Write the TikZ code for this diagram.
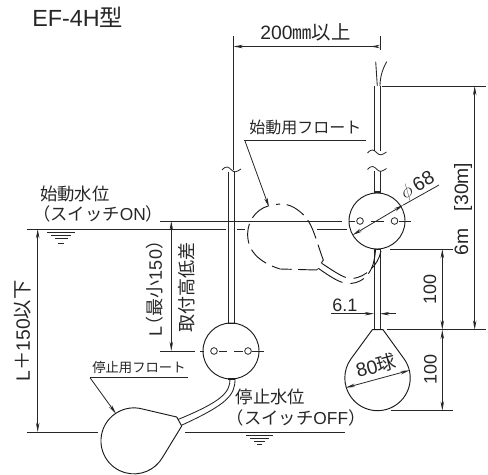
\documentclass[tikz,border=0pt]{standalone}
\usepackage{fontspec}
\setmainfont{Liberation Sans}
\newfontfamily\jpfont{Noto Sans CJK JP}
\newcommand{\jp}[1]{{\jpfont #1}}
\usetikzlibrary{arrows.meta}
\tikzset{>={Stealth[length=7pt,width=2.6pt]}, every node/.style={inner sep=0pt, text=black!85},
  thin line/.style={line width=0.6pt, black!85},
  dimline/.style={thin line, <->},
  tube/.style={line width=0.65pt, black!85},
  float/.style={line width=0.7pt, black!90},
  hidden/.style={float, dash pattern=on 15pt off 5pt},
  hiddencable/.style={float, dash pattern=on 21pt off 6pt on 11pt off 5pt on 40pt off 5pt},
  lbl/.style={font=\fontsize{13pt}{13pt}\selectfont, anchor=base west},
  dimlbl/.style={font=\fontsize{13.5pt}{13.5pt}\selectfont, rotate=90},
  biglbl/.style={font=\fontsize{14.5pt}{14.5pt}\selectfont},
  wave/.style={thin line}}
\newcommand{\wavemark}[2]{\draw[wave] (#1-9.5,#2) .. controls (#1-5,#2-5) and (#1-3,#2-3) .. (#1,#2) .. controls (#1+3,#2+3) and (#1+5,#2+2) .. (#1+9.5,#2-1);}

\begin{document}
\begin{tikzpicture}[x=0.75pt,y=-0.75pt]
        \useasboundingbox (0,0) rectangle (488,474);
        % texts
        \node[lbl, font=\fontsize{17.5pt}{17.5pt}\selectfont] at (32,26.5) (title) {EF-4H\jp{型}};
        \node[lbl, biglbl] at (260,40) (width200) {200\jp{㎜以上}};
        \node[lbl, font=\fontsize{12pt}{12pt}\selectfont] at (249,133) (startfloat) {\jp{始動用フロート}};
        \node[lbl] at (40,200) (startlevel) {\jp{始動水位}};
        \node[lbl] at (33,220) (startsw) {\jp{（スイッチ}ON\jp{）}};
        \node[lbl, font=\fontsize{10pt}{10pt}\selectfont] at (92,372) (stopfloat) {\jp{停止用フロート}};
        \node[lbl] at (235.5,403) (stoplevel) {\jp{停止水位}};
        \node[lbl] at (226.5,424) (stopsw) {\jp{（スイッチ}OFF\jp{）}};
        \node[dimlbl, biglbl] at (23,331) (total) {L\jp{＋}150\jp{以下}};
        \node[dimlbl] at (155,284) (lmin) {L\hspace{-6pt}\jp{（最小}150\jp{）}};
        \node[dimlbl] at (187,287) (height) {\jp{取付高低差}};
        \node[dimlbl, biglbl] at (463,209) (cable) {6m\hspace{0.9em}[30m]};
        \node[dimlbl] at (430,289) (upper100) {100};
        \node[dimlbl] at (430.5,369) (lower100) {100};
        \node[lbl, font=\fontsize{13.5pt}{13.5pt}\selectfont] at (332,311) (tube61) {6.1};
        \node[biglbl, rotate=30] at (418,186) (dia68) {$\phi$\,68};
        \node[biglbl, rotate=15] at (376,365.5) (ball80) {80\jp{球}};

        % levels and extension lines
        \draw[thin line] (160,221) -- (342,221) (349,221) -- (355,221) (371,221) -- (384,221) (399,221) -- (411,221);
        \draw[thin line] (26.7,229) -- (226,229) (237,229) -- (245,229) (317,229) -- (347,229);
        \draw[thin line] (160,351) -- (195,351) (200,351) -- (204,351) (219,351) -- (227,351) (234,351) -- (243,351) (252,351) -- (264,351);
        \draw[thin line] (26.7,432) -- (98.3,432) (185,432) -- (345,432);
        \draw[thin line] (382,86) -- (485.7,86) (390,249) -- (453,249) (387,329.7) -- (485.7,329.7) (390.7,410.7) -- (453,410.7);
        \draw[thin line] (233.5,36) -- (233.5,170) (380,36) -- (380,50);

        % dimensions
        \coordinate (dimL1) at (233.5,46.5);
        \coordinate (dimR1) at (380,46.5);
        \draw[thin line, >->, >={Stealth[length=7pt,width=2.6pt,reversed]}] (dimL1) -- (dimR1);
        \draw[dimline] (474.7,86) -- (474.7,329.7);
        \draw[dimline] (442.3,249) -- (442.3,329.7);
        \draw[dimline] (442.3,329.7) -- (442.3,410.7);
        \draw[dimline] (171.3,221) -- (171.3,351);
        \draw[dimline] (37.7,229) -- (37.7,432);
        \draw[dimline] (352.7,235) -- (403.3,205);
        \draw[thin line] (403.3,205) -- (439,185);
        \draw[dimline] (345.7,387.7) -- (409.7,370.3);
        \draw[thin line, ->] (331,313.7) -- (374,313.7);
        \draw[thin line, ->] (396,313.7) -- (380,313.7);
        \draw[thin line] (244,140) -- (365.7,140);
        \draw[thin line, ->] (245,141) -- (269,207);
        \draw[thin line] (90,377.7) -- (188,377.7);
        \draw[thin line, ->] (90,377.7) -- (116,413.7);

        % water marks
        \draw[thin line] (47,232) -- (75,232) (51,235) -- (71,235) (55,238) -- (68,238) (58,243) -- (64,243);
        \draw[thin line] (246,435) -- (273,435) (250,438) -- (269,438) (254,441) -- (265,441) (257,444.5) -- (262,444.5);

        % tubes
        \draw[tube] (228.5,172) -- (228.5,323) (234,172) -- (234,323);
        \draw[tube] (374,86) -- (374,151) (380,86) -- (380,151);
        \draw[tube] (374,171) -- (374,192) (380,171) -- (380,192);
        \draw[tube] (374,249) -- (374,330) (380,249) -- (380,330);
        \draw[tube] (375.7,61.7) -- (377.3,86);
        \draw[tube] (386.7,61.7) .. controls (382,70) and (380,78) .. (380,86);
        \wavemark{231.5}{170}
        \wavemark{377}{153}
        \wavemark{377}{169.5}
        \draw[line width=1.4pt, black!85] (373.5,192) -- (380.5,192) (373.5,249.5) -- (380.5,249.5) (228,323.5) -- (235,323.5) (228,379) -- (235,379);

        % switch balls
        \node[draw, float, circle, minimum size=42pt] at (377,221) (upperball) {};
        \node[draw, thin line, circle, minimum size=5pt] at (360,221) (upperhole1) {};
        \node[draw, thin line, circle, minimum size=5pt] at (394.5,221) (upperhole2) {};
        \node[draw, float, circle, minimum size=42pt] at (231,351) (lowerball) {};
        \node[draw, thin line, circle, minimum size=5pt] at (214,351) (lowerhole1) {};
        \node[draw, thin line, circle, minimum size=5pt] at (248,351) (lowerhole2) {};

        % floats
        \draw[float] (372.3,329.7) -- (383,329.7) -- (404.3,359.2) arc[start angle=-35, end angle=215, radius=32.7] -- cycle;
        \draw[float] (176.7,417) -- (142.5,409) arc[start angle=-75, end angle=-330, radius=33] -- (181.7,426) -- cycle;
        \draw[tube] (235,379) .. controls (235,395) and (228,404) .. (181,425.5);
        \draw[tube] (230,379) .. controls (230,392) and (223,401) .. (178,419.5);
        \draw[hidden] (268,206) .. controls (255,210) and (248,222) .. (247.7,233) .. controls (247,250) and (258,262) .. (280,269) -- (316.7,270) -- (323.3,260) .. controls (315,238) and (313,222) .. (300,211.7) .. controls (292,205) and (284,203) .. (276,204.5);
        \draw[hiddencable] (321.7,263.3) .. controls (338,274) and (345,279) .. (353,278.5) .. controls (365,277) and (378,266) .. (381,251);
        \draw[hiddencable] (318.3,268.3) .. controls (335,280) and (342,284) .. (351,283.5) .. controls (365,282) and (374,272) .. (375.5,250);
\end{tikzpicture}
\end{document}
